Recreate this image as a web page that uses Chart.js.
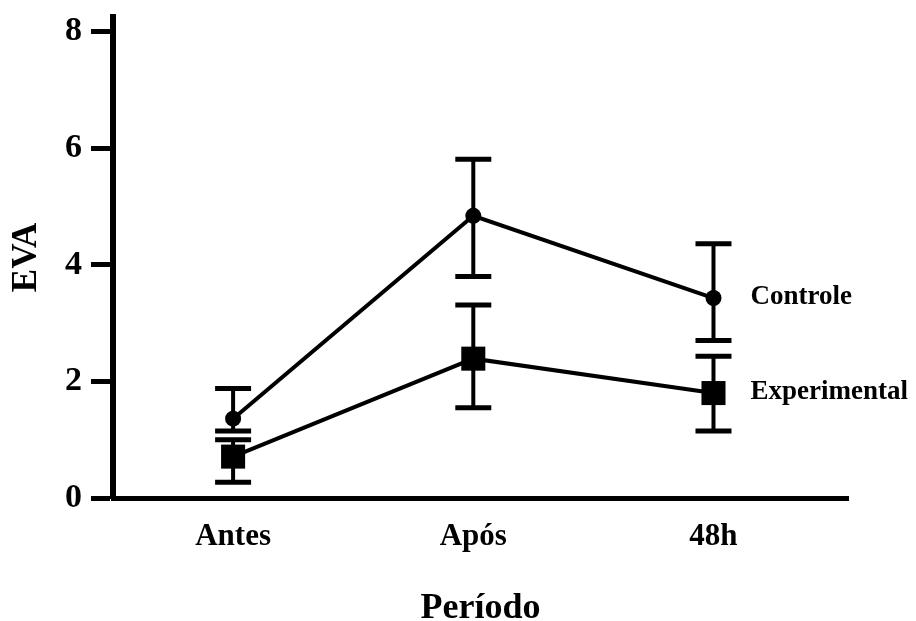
<!DOCTYPE html>
<html lang="pt">
<head>
    <meta charset="UTF-8">
    <title>EVA por período</title>
    <script src="https://cdn.jsdelivr.net/npm/chart.js"></script>
    <style>
        html, body { margin: 0; padding: 0; background: #fff; }
        #wrap { width: 916px; height: 621px; }
    </style>
</head>
<body>
<div id="wrap"><canvas id="evaChart" width="916" height="621"></canvas></div>
<script>
    // Períodos (eixo x) e marcas do eixo y
    const periodos = ['Antes', 'Após', '48h'];
    const yTicks = [0, 2, 4, 6, 8];

    // Controle: média e limites das barras de erro
    const controleMedia = [1.36, 4.84, 3.43];
    const controleSup = [1.88, 5.81, 4.36];
    const controleInf = [1.15, 3.80, 2.70];

    // Experimental
    const experMedia = [0.71, 2.39, 1.80];
    const experSup = [1.00, 3.31, 2.43];
    const experInf = [0.27, 1.55, 1.15];

    const serif = "'Liberation Serif', 'Times New Roman', serif";

    function pontos(valores) {
        return valores.map((v, i) => ({ x: i, y: v }));
    }

    // Barras de erro com traço no topo e na base
    const barrasErro = {
        id: 'barrasErro',
        afterDatasetsDraw(chart) {
            const ctx = chart.ctx;
            const xs = chart.scales.x, ys = chart.scales.y;
            const grupos = [[controleSup, controleInf], [experSup, experInf]];
            ctx.save();
            ctx.strokeStyle = '#000';
            ctx.lineCap = 'butt';
            grupos.forEach(([sup, inf]) => {
                sup.forEach((s, i) => {
                    const x = xs.getPixelForValue(i);
                    const yTop = ys.getPixelForValue(s);
                    const yBot = ys.getPixelForValue(inf[i]);
                    ctx.lineWidth = 4;
                    ctx.beginPath();
                    ctx.moveTo(x, yTop);
                    ctx.lineTo(x, yBot);
                    ctx.stroke();
                    ctx.lineWidth = 5;
                    ctx.beginPath();
                    ctx.moveTo(x - 18, yTop); ctx.lineTo(x + 18, yTop);
                    ctx.moveTo(x - 18, yBot); ctx.lineTo(x + 18, yBot);
                    ctx.stroke();
                });
            });
            ctx.restore();
        }
    };

    // Nomes das séries à direita do último ponto
    const rotulos = {
        id: 'rotulos',
        afterDatasetsDraw(chart) {
            const ctx = chart.ctx;
            const xs = chart.scales.x, ys = chart.scales.y;
            ctx.save();
            ctx.fillStyle = '#000';
            ctx.font = 'bold 27px ' + serif;
            ctx.textAlign = 'left';
            ctx.textBaseline = 'middle';
            chart.data.datasets.forEach(ds => {
                const ult = ds.data[ds.data.length - 1];
                ctx.fillText(ds.label, xs.getPixelForValue(ult.x) + 37, ys.getPixelForValue(ult.y) - 1);
            });
            ctx.restore();
        }
    };

    new Chart(document.getElementById('evaChart'), {
        type: 'line',
        data: {
            datasets: [
                {
                    label: 'Controle',
                    data: pontos(controleMedia),
                    borderColor: '#000',
                    backgroundColor: '#000',
                    borderWidth: 4,
                    pointStyle: 'circle',
                    pointRadius: 8,
                    pointBorderWidth: 0
                },
                {
                    label: 'Experimental',
                    data: pontos(experMedia),
                    borderColor: '#000',
                    backgroundColor: '#000',
                    borderWidth: 4,
                    pointStyle: 'rect',
                    pointRadius: 17,
                    pointBorderWidth: 0
                }
            ]
        },
        options: {
            responsive: false,
            animation: false,
            layout: { padding: { left: 0, top: 12, right: 68, bottom: 0 } },
            plugins: { legend: { display: false }, tooltip: { enabled: false } },
            scales: {
                x: {
                    type: 'linear',
                    min: -0.5,
                    max: 2.56,
                    afterFit(scale) { scale.height = 123; scale.paddingLeft = 0; scale.paddingRight = 0; },
                    afterBuildTicks(scale) { scale.ticks = periodos.map((p, i) => ({ value: i })); },
                    grid: { display: false },
                    border: { display: true, color: '#000', width: 5 },
                    ticks: {
                        color: '#000',
                        padding: 12,
                        autoSkip: false,
                        maxRotation: 0,
                        font: { family: serif, weight: 'bold', size: 31 },
                        callback: v => periodos[v]
                    },
                    title: {
                        display: true,
                        text: 'Período',
                        color: '#000',
                        padding: { top: 0, bottom: 0 },
                        font: { family: serif, weight: 'bold', size: 36, lineHeight: 0.67 }
                    }
                },
                y: {
                    min: 0,
                    max: 8.25,
                    afterFit(scale) { scale.width = 113; scale.paddingTop = 0; scale.paddingBottom = 0; },
                    afterBuildTicks(scale) { scale.ticks = yTicks.map(v => ({ value: v })); },
                    grid: {
                        drawOnChartArea: false,
                        drawTicks: true,
                        tickLength: 22,
                        tickWidth: 5,
                        tickColor: '#000'
                    },
                    border: { display: true, color: '#000', width: 6 },
                    ticks: {
                        color: '#000',
                        padding: 9,
                        font: { family: serif, weight: 'bold', size: 34 }
                    },
                    title: {
                        display: true,
                        text: 'EVA',
                        color: '#000',
                        padding: { top: 9, bottom: 0 },
                        font: { family: serif, weight: 'bold', size: 35, lineHeight: 1 }
                    }
                }
            }
        },
        plugins: [barrasErro, rotulos]
    });
</script>
</body>
</html>
